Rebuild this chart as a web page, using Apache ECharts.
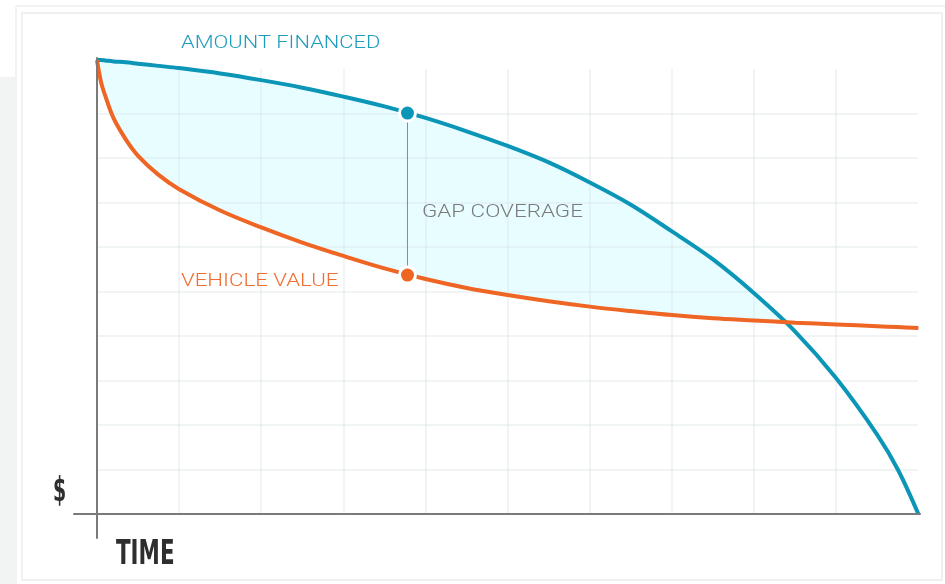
<!DOCTYPE html>
<html>
<head>
<meta charset="utf-8">
<script src="https://cdn.jsdelivr.net/npm/echarts@6/dist/echarts.min.js"></script>
<style>
  html, body { margin: 0; padding: 0; background: #ffffff; }
  #chart { width: 945px; height: 584px; }
</style>
</head>
<body>
<div id="chart"></div>
<script>
// time samples (shared by both curves)
var timeSteps = [0, 0.05, 0.1, 0.2, 0.35, 0.5, 0.75, 1, 1.5, 2, 2.5, 3, 3.5, 4, 4.5, 5, 5.5, 6, 6.5, 7, 7.5, 8, 8.5, 9, 9.5, 9.75, 10]
var amountFinanced = [10.2, 10.2, 10.19, 10.17, 10.15, 10.12, 10.07, 10.02, 9.9, 9.75, 9.58, 9.38, 9.16, 8.9, 8.6, 8.27, 7.9, 7.45, 6.95, 6.35, 5.72, 4.96, 4.1, 3.05, 1.78, 1.0, 0]
var vehicleValue = [10.2, 9.7, 9.4, 8.9, 8.42, 8.05, 7.62, 7.3, 6.82, 6.44, 6.1, 5.8, 5.52, 5.28, 5.08, 4.92, 4.78, 4.66, 4.56, 4.47, 4.4, 4.35, 4.3, 4.26, 4.22, 4.2, 4.18]
var gapAt = 3.78
var gapTop = 9.01
var gapBottom = 5.37

var blue = '#0b96b7'
var orange = '#ee6524'
var smooth = 0.35

function pairs(values) {
  return timeSteps.map(function (t, i) { return [t, values[i]] })
}

var gridLine = { show: true, showMinLine: false, showMaxLine: false, lineStyle: { color: 'rgba(215,222,222,0.45)', width: 1.5 } }
var labelFont = '300 19px Roboto, sans-serif'
var bigFont = 'bold 34px "DejaVu Sans Condensed", "DejaVu Sans", sans-serif'

var chart = echarts.init(document.getElementById('chart'))
chart.setOption({
  backgroundColor: '#ffffff',
  animation: false,
  grid: [
    // grid lines only
    { left: 97, right: 27, top: 69, bottom: 70 },
    // data + axis lines
    { left: 74, right: 25, top: 58, bottom: 46 }
  ],
  xAxis: [
    {
      gridIndex: 0, type: 'value', min: 0, max: 10, interval: 1, z: 2,
      axisLine: { show: false }, axisTick: { show: false }, axisLabel: { show: false },
      splitLine: gridLine
    },
    {
      gridIndex: 1, type: 'value', min: -0.28, max: 10.02, z: 5,
      axisLine: { show: true, onZero: true, lineStyle: { color: '#7a7a7a', width: 2 } },
      axisTick: { show: false }, axisLabel: { show: false }, splitLine: { show: false }
    }
  ],
  yAxis: [
    {
      gridIndex: 0, type: 'value', min: 0, max: 10, interval: 1, z: 2,
      axisLine: { show: false }, axisTick: { show: false }, axisLabel: { show: false },
      splitLine: gridLine
    },
    {
      gridIndex: 1, type: 'value', min: -0.539, max: 10.247, z: 5,
      axisLine: { show: true, onZero: true, lineStyle: { color: '#7a7a7a', width: 2 } },
      axisTick: { show: false }, axisLabel: { show: false }, splitLine: { show: false }
    }
  ],
  series: [
    // cyan under the financed curve, then white under the value curve -> gap band
    {
      name: 'gapFill',
      type: 'line', xAxisIndex: 1, yAxisIndex: 1, z: 1,
      data: pairs(amountFinanced), smooth: smooth, symbol: 'none',
      lineStyle: { width: 0, opacity: 0 },
      areaStyle: { color: '#e7fdff', opacity: 1 }
    },
    {
      name: 'valueFill',
      type: 'line', xAxisIndex: 1, yAxisIndex: 1, z: 1,
      data: pairs(vehicleValue), smooth: smooth, symbol: 'none',
      lineStyle: { width: 0, opacity: 0 },
      areaStyle: { color: '#ffffff', opacity: 1 }
    },
    {
      name: 'AMOUNT FINANCED',
      type: 'line', xAxisIndex: 1, yAxisIndex: 1, z: 3,
      data: pairs(amountFinanced), smooth: smooth, symbol: 'none',
      lineStyle: { color: blue, width: 4 }
    },
    {
      name: 'VEHICLE VALUE',
      type: 'line', xAxisIndex: 1, yAxisIndex: 1, z: 3,
      data: pairs(vehicleValue), smooth: smooth, symbol: 'none',
      lineStyle: { color: orange, width: 4 }
    },
    {
      name: 'connector',
      type: 'line', xAxisIndex: 1, yAxisIndex: 1, z: 4,
      data: [[gapAt, gapTop], [gapAt, gapBottom]],
      symbol: 'none',
      lineStyle: { color: '#8a8a8a', width: 1 }
    },
    {
      name: 'points',
      type: 'scatter', xAxisIndex: 1, yAxisIndex: 1, z: 6,
      symbolSize: 16,
      data: [
        { value: [gapAt, gapTop], itemStyle: { color: blue } },
        { value: [gapAt, gapBottom], itemStyle: { color: orange } }
      ],
      itemStyle: { borderColor: '#ffffff', borderWidth: 3, opacity: 1 }
    }
  ],
  graphic: [
    { type: 'rect', z: -10, shape: { x: 0, y: 77, width: 16, height: 507 }, style: { fill: '#f2f3f3' } },
    { type: 'line', z: -10, shape: { x1: 16, y1: 6, x2: 945, y2: 6 }, style: { stroke: '#f2f2f2', lineWidth: 2 } },
    { type: 'line', z: -10, shape: { x1: 16, y1: 6, x2: 16, y2: 584 }, style: { stroke: '#f2f2f2', lineWidth: 2 } },
    { type: 'rect', z: -10, shape: { x: 22, y: 13, width: 920, height: 567 }, style: { fill: 'none', stroke: '#f0f0f0', lineWidth: 2 } },
    {
      type: 'text', x: 181, y: 43, scaleX: 1.15, z: 10,
      style: { text: 'AMOUNT FINANCED', fill: '#1f9cbd', font: labelFont, textAlign: 'left', textVerticalAlign: 'middle' }
    },
    {
      type: 'text', x: 181, y: 281, scaleX: 1.17, z: 10,
      style: { text: 'VEHICLE VALUE', fill: '#f06c2f', font: labelFont, textAlign: 'left', textVerticalAlign: 'middle' }
    },
    {
      type: 'text', x: 422, y: 212, scaleX: 1.18, z: 10,
      style: { text: 'GAP COVERAGE', fill: '#7b7b7b', font: labelFont, textAlign: 'left', textVerticalAlign: 'middle' }
    },
    {
      type: 'text', x: 53, y: 492, scaleX: 0.62, z: 10,
      style: { text: '$', fill: '#2e2e2e', font: bigFont, textAlign: 'left', textVerticalAlign: 'middle' }
    },
    {
      type: 'text', x: 116, y: 555, scaleX: 0.7, z: 10,
      style: { text: 'TIME', fill: '#2e2e2e', font: bigFont, textAlign: 'left', textVerticalAlign: 'middle' }
    }
  ]
})
</script>
</body>
</html>
